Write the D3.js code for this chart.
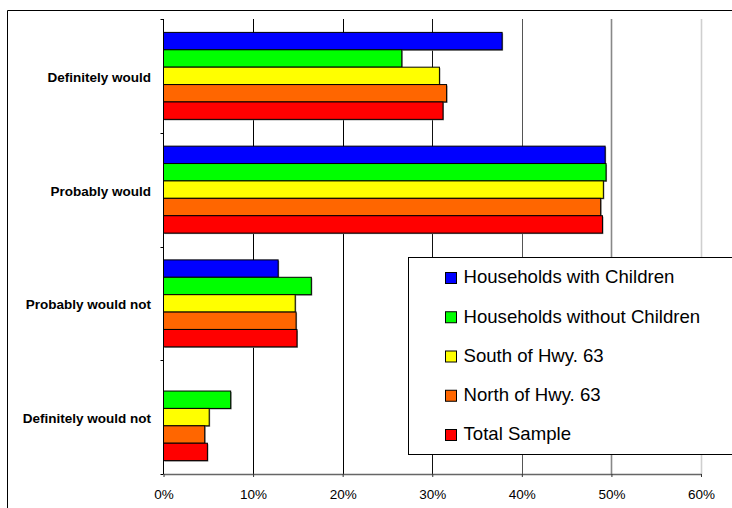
<!DOCTYPE html>
<html>
<head>
<meta charset="utf-8">
<script src="https://cdn.jsdelivr.net/npm/d3@7"></script>
<style>
  html, body { margin: 0; padding: 0; background: #fff; }
  svg { display: block; font-family: Arial, "Liberation Sans", sans-serif; }
</style>
</head>
<body>
<svg id="chart" width="732" height="508"></svg>
<script>
// Survey responses by subgroup (percent of respondents)
const categories = ["Definitely would", "Probably would", "Probably would not", "Definitely would not"];
const seriesNames = ["Households with Children", "Households without Children", "South of Hwy. 63", "North of Hwy. 63", "Total Sample"];
const seriesColors = ["#0000ff", "#00ff00", "#ffff00", "#ff6600", "#ff0000"];
const withChildren    = [37.8, 49.3, 12.8, null];
const withoutChildren = [26.6, 49.4, 16.5, 7.5];
const southHwy63      = [30.8, 49.1, 14.7, 5.1];
const northHwy63      = [31.6, 48.8, 14.8, 4.6];
const totalSample     = [31.2, 49.0, 14.9, 4.9];
const xTicks = [0, 10, 20, 30, 40, 50, 60];

const seriesValues = [withChildren, withoutChildren, southHwy63, northHwy63, totalSample];

(function draw() {
  const svg = d3.select("#chart");

  // outer chart frame (open at right and bottom)
  svg.append("path")
    .attr("d", "M7.5,508 V10.5 H732")
    .attr("fill", "none").attr("stroke", "#000").attr("stroke-width", 1);

  const plotLeft = 163.5, plotRight = 701, plotTop = 19, plotBottom = 474;

  const x = d3.scaleLinear().domain([0, 60]).range([plotLeft, plotRight]);
  const y = d3.scaleBand().domain(categories).range([plotTop, plotBottom]).padding(0);
  const ys = d3.scaleBand().domain(seriesNames).range([0, y.bandwidth()])
    .paddingInner(0).paddingOuter(0.77);

  // vertical gridlines, fading toward the right
  const gridColors = { 10: "#000", 20: "#000", 30: "#111", 40: "#555", 50: "#888", 60: "#cfcfcf" };
  const gridWidths = { 10: 1, 20: 1, 30: 1, 40: 1, 50: 1.6, 60: 1.6 };
  svg.append("g").selectAll("line")
    .data(xTicks.filter(d => d > 0))
    .join("line")
    .attr("x1", d => Math.round(x(d)) + 0.5).attr("x2", d => Math.round(x(d)) + 0.5)
    .attr("y1", plotTop).attr("y2", plotBottom)
    .attr("stroke", d => gridColors[d]).attr("stroke-width", d => gridWidths[d]);

  // bars, grouped by category
  const flat = [];
  categories.forEach((c, ci) => {
    seriesNames.forEach((s, si) => {
      const v = seriesValues[si][ci];
      if (v != null) flat.push({ c, s, v, color: seriesColors[si] });
    });
  });

  const bars = svg.append("g");
  // soft drop shadow
  bars.selectAll("rect.shadow").data(flat).join("rect")
    .attr("class", "shadow")
    .attr("x", x(0) + 1)
    .attr("y", d => y(d.c) + ys(d.s) + 1)
    .attr("width", d => x(d.v) - x(0))
    .attr("height", ys.bandwidth())
    .attr("fill", "#8a8a8a");
  bars.selectAll("rect.bar").data(flat).join("rect")
    .attr("class", "bar")
    .attr("x", x(0))
    .attr("y", d => y(d.c) + ys(d.s))
    .attr("width", d => x(d.v) - x(0))
    .attr("height", ys.bandwidth())
    .attr("fill", d => d.color)
    .attr("stroke", "#000").attr("stroke-width", 1);

  // x axis
  const xAxis = svg.append("g")
    .attr("transform", `translate(0,${plotBottom})`)
    .call(d3.axisBottom(x).tickValues(xTicks).tickFormat(d => d + "%").tickSize(3).tickSizeOuter(0));
  xAxis.select(".domain").attr("stroke", "#666").attr("stroke-width", 1.5);
  xAxis.selectAll(".tick line").attr("stroke", "#333");
  xAxis.selectAll(".tick text")
    .attr("font-size", 13.5).attr("font-family", "Arial, 'Liberation Sans', sans-serif")
    .attr("fill", "#000").attr("dy", "1.4em");

  // y axis line with ticks at category boundaries
  const yAx = svg.append("g");
  yAx.append("line")
    .attr("x1", plotLeft).attr("x2", plotLeft).attr("y1", plotTop).attr("y2", plotBottom)
    .attr("stroke", "#000").attr("stroke-width", 1);
  const bounds = categories.map(c => y(c)).concat([plotBottom]);
  yAx.selectAll("line.tk").data(bounds).join("line")
    .attr("class", "tk")
    .attr("x1", plotLeft - 3).attr("x2", plotLeft)
    .attr("y1", d => Math.round(d) + 0.5).attr("y2", d => Math.round(d) + 0.5)
    .attr("stroke", "#000");

  // category labels
  svg.append("g").selectAll("text").data(categories).join("text")
    .attr("x", 151)
    .attr("y", d => y(d) + y.bandwidth() / 2 + 2.5)
    .attr("text-anchor", "end")
    .attr("dominant-baseline", "middle")
    .attr("font-size", 13.5).attr("font-weight", "bold")
    .text(d => d);

  // legend
  const lg = svg.append("g");
  lg.append("rect")
    .attr("x", 408.5).attr("y", 257.5).attr("width", 340).attr("height", 197)
    .attr("fill", "#fff").attr("stroke", "#000").attr("stroke-width", 1);
  const rowY = d3.scalePoint().domain(seriesNames).range([278, 435]);
  const items = lg.selectAll("g.item").data(seriesNames).join("g")
    .attr("class", "item")
    .attr("transform", d => `translate(0,${rowY(d)})`);
  items.append("rect")
    .attr("x", 445.5).attr("y", -5.5).attr("width", 11).attr("height", 11)
    .attr("fill", (d, i) => seriesColors[i]).attr("stroke", "#000").attr("stroke-width", 1);
  items.append("text")
    .attr("x", 463.5).attr("y", 0.5)
    .attr("dominant-baseline", "middle")
    .attr("font-size", 18.6)
    .text(d => d);
})();
</script>
</body>
</html>
